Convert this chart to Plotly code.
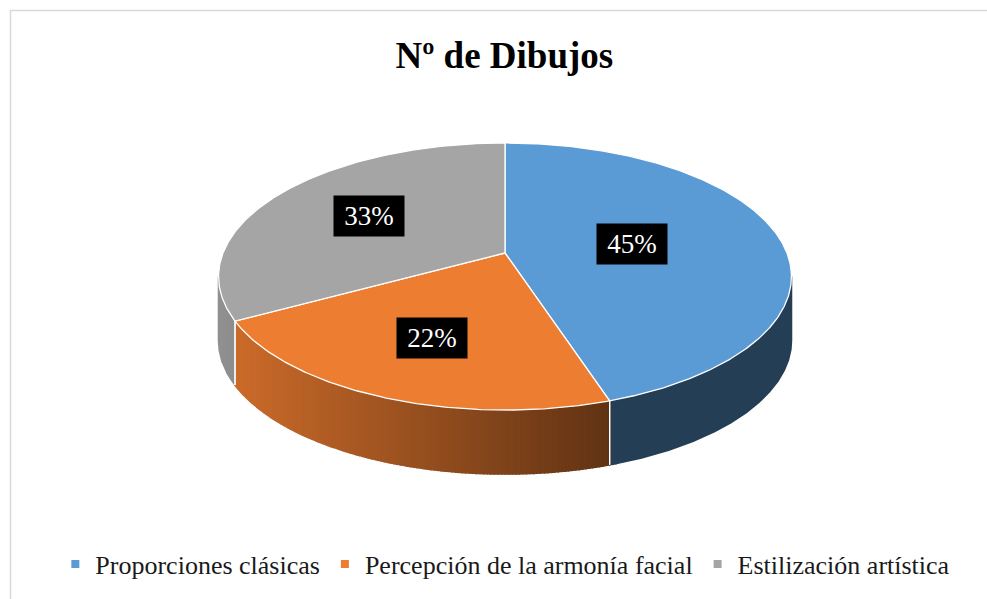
import math
import plotly.graph_objects as go

# ---------------- data ----------------
CATEGORIES = ["Proporciones clásicas", "Percepción de la armonía facial", "Estilización artística"]
VALUES = [45, 22, 33]
PCT_LABELS = ["45%", "22%", "33%"]
TITLE = "Nº de Dibujos"

# ---------------- style ----------------
COLORS = [(91, 155, 213), (237, 125, 49), (165, 165, 165)]
LABEL_R = [0.46, 0.63, 0.59]          # radial position of the data labels
FONT = "Liberation Serif"

W, H = 987, 599
CX, CY = 505.0, 253.0      # projected pie centre (pixels)
A, B, C = 282.0, 129.4, 0.176   # perspective projection parameters
DEPTH = 64.0               # pie thickness (pixels)
START = 90.0               # first slice starts at 12 o'clock, clockwise


def proj(theta_deg, r=1.0):
    t = math.radians(theta_deg)
    s, c = math.sin(t), math.cos(t)
    d = 1.0 + C * r * s
    return CX + A * r * c / d, CY - B * r * s / d


def rgb_t(col, f=1.0):
    return tuple(max(0, min(255, round(v * f))) for v in col)


def rgb(col, f=1.0):
    return "rgb(%d,%d,%d)" % rgb_t(col, f)


def arc(a0, a1, r=1.0, step=1.0):
    n = max(2, int(abs(a1 - a0) / step) + 1)
    return [proj(a0 + (a1 - a0) * i / (n - 1), r) for i in range(n)]


total = float(sum(VALUES))
bounds = []
acc = 0.0
for v in VALUES:
    a_start = START - 360.0 * acc / total
    acc += v
    a_end = START - 360.0 * acc / total
    bounds.append((a_start, a_end))

# silhouette limits of the visible side wall
w_hi = -math.degrees(math.asin(C))           # right extreme
w_lo = -180.0 + math.degrees(math.asin(C))   # left extreme

fig = go.Figure()

# ---------------- side walls (shaded strips) ----------------
x_left, x_right = proj(w_lo)[0], proj(w_hi)[0]
wall_edges = []
for (a_start, a_end), col in zip(bounds, COLORS):
    hi = min(a_start, w_hi)
    lo = max(a_end, w_lo)
    if hi <= lo:
        continue
    nstrip = max(1, int((hi - lo) / 0.6))
    groups = []
    for k in range(nstrip):
        a = hi - (hi - lo) * k / nstrip
        b = hi - (hi - lo) * (k + 1) / nstrip
        xm = proj((a + b) / 2)[0]
        tt = (xm - x_left) / (x_right - x_left)
        f = max(0.40, 0.874 - 0.684 * tt)
        shade = rgb_t(col, f)
        if groups and groups[-1][2] == shade:
            groups[-1][1] = b
        else:
            groups.append([a, b, shade])
    for a, b, shade in groups:
        top = arc(a, b, step=0.3)
        bot = [(x, y + DEPTH) for x, y in reversed(top)]
        pts = top + bot + [top[0]]
        cs = "rgb(%d,%d,%d)" % shade
        fig.add_trace(go.Scatter(
            x=[p[0] for p in pts], y=[p[1] for p in pts],
            mode="lines", fill="toself", fillcolor=cs,
            line=dict(color=cs, width=1.6),
            hoverinfo="skip", showlegend=False))
    for edge in (a_start, a_end):
        if w_lo < edge < w_hi:
            wall_edges.append(edge)

for edge in wall_edges:
    x0, y0 = proj(edge)
    fig.add_trace(go.Scatter(x=[x0, x0], y=[y0, y0 + DEPTH], mode="lines",
                             line=dict(color="white", width=1.2),
                             hoverinfo="skip", showlegend=False))

# ---------------- top faces ----------------
for (a_start, a_end), col, name, v in zip(bounds, COLORS, CATEGORIES, VALUES):
    pts = [(CX, CY)] + arc(a_start, a_end, step=0.5) + [(CX, CY)]
    fig.add_trace(go.Scatter(
        x=[p[0] for p in pts], y=[p[1] for p in pts],
        mode="lines", fill="toself", fillcolor=rgb(col),
        line=dict(color="white", width=1.3),
        name=name, text=f"{name}: {v}", hoverinfo="text", showlegend=False))

# ---------------- legend entries ----------------
for name, col in zip(CATEGORIES, COLORS):
    fig.add_trace(go.Scatter(x=[None], y=[None], mode="markers", name=name,
                             marker=dict(symbol="square", size=8, color=rgb(col))))

# ---------------- data labels ----------------
for (a_start, a_end), lab, r in zip(bounds, PCT_LABELS, LABEL_R):
    x, y = proj((a_start + a_end) / 2.0, r)
    fig.add_annotation(x=x, y=y, text=lab, showarrow=False,
                       font=dict(family=FONT, size=27, color="white"),
                       bgcolor="black", width=70, height=40, borderpad=0)

# ---------------- frame ----------------
fig.add_shape(type="line", x0=10, y0=10.5, x1=W + 5, y1=10.5,
              line=dict(color="#d9d9d9", width=1.5), layer="below")
fig.add_shape(type="line", x0=10.5, y0=10, x1=10.5, y1=H + 5,
              line=dict(color="#d9d9d9", width=1.5), layer="below")

fig.update_layout(
    width=W, height=H,
    margin=dict(l=0, r=0, t=0, b=0),
    paper_bgcolor="white", plot_bgcolor="white",
    title=dict(text="<b>%s</b>" % TITLE, x=0.511, xanchor="center",
               y=1 - 55 / H, yanchor="middle", yref="container",
               font=dict(family=FONT, size=37, color="black")),
    xaxis=dict(range=[0, W], visible=False, fixedrange=True),
    yaxis=dict(range=[H, 0], visible=False, fixedrange=True),
    legend=dict(orientation="h", x=0.512, xanchor="center", y=1 - 564 / H,
                yanchor="middle", font=dict(family=FONT, size=26, color="#1a1a1a"),
                itemwidth=30, bgcolor="rgba(0,0,0,0)"),
    showlegend=True,
)

fig.write_html("out.html", config={"displayModeBar": False},
               post_script="document.body.style.margin='0px';document.body.style.overflow='hidden';")
